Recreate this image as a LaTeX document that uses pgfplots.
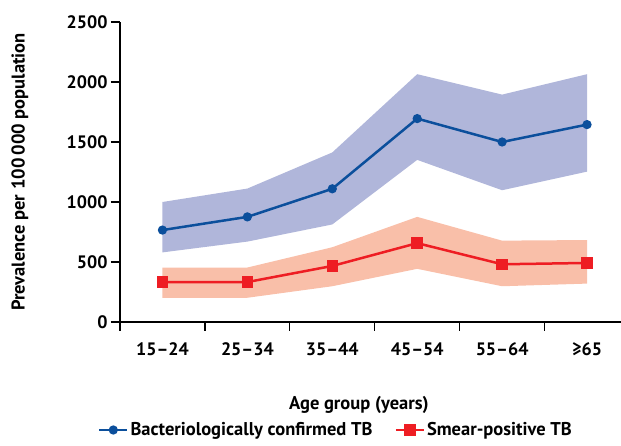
\documentclass[border=0pt]{standalone}
\usepackage{pgfplots}
\pgfplotsset{compat=1.18}
\usepackage{fontspec}
\setmainfont{PT Sans}
\definecolor{bline}{HTML}{0B4F9C}
\definecolor{bband}{HTML}{B0B6DA}
\definecolor{rline}{HTML}{EE1D23}
\definecolor{rband}{HTML}{F9BFA9}
\begin{document}
\begin{tikzpicture}
\begin{axis}[
  scale only axis, width=501pt, height=300pt,
  xmin=-0.5, xmax=5.4, ymin=0, ymax=2500,
  axis x line=bottom, axis y line=left,
  axis line style={-, line width=1.2pt},
  every tick/.style={black, line width=1.2pt},
  tick align=outside, major tick length=9pt,
  xtick={-0.5,0.5,1.5,2.5,3.5,4.5}, xticklabels={,,,,,},
  extra x ticks={0,1,2,3,4,5},
  extra x tick labels={15–24,25–34,35–44,45–54,55–64,≥65},
  extra x tick style={major tick length=0pt, tick label style={yshift=-17pt}},
  ytick={0,500,1000,1500,2000,2500},
  /pgf/number format/assume math mode=true,
  /pgf/number format/1000 sep={},
  tick label style={font=\fontsize{18}{18}\selectfont\bfseries},
  ylabel={Prevalence per 100\,000 population},
  ylabel style={at={(axis description cs:-0.2,0.5)}, anchor=center, font=\fontsize{18.5}{18.5}\selectfont\bfseries},
  xlabel={Age group (years)},
  xlabel style={at={(axis description cs:0.477,-0.275)}, anchor=center, font=\fontsize{18.5}{18.5}\selectfont\bfseries},
  legend columns=2,
  legend style={draw=none, at={(axis description cs:0.431,-0.36)}, anchor=center,
    inner sep=1pt, font=\fontsize{18.5}{18.5}\selectfont\bfseries,
    /tikz/every even column/.append style={column sep=20pt}},
  legend image code/.code={\draw[mark repeat=2,mark phase=2] plot coordinates {(0pt,0pt) (14pt,0pt) (28pt,0pt)};},
  clip=false,
]
\addplot[fill=bband, draw=none, forget plot] coordinates {
  (0,1000) (1,1112) (2,1413) (3,2065) (4,1895) (5,2065)
  (5,1253) (4,1098) (3,1351) (2,813) (1,670) (0,580)} --cycle;
\addplot[fill=rband, draw=none, forget plot] coordinates {
  (0,454) (1,454) (2,623) (3,876) (4,678) (5,683)
  (5,320) (4,298) (3,443) (2,298) (1,202) (0,202)} --cycle;
\addplot[bline, line width=2.5pt, mark=*, mark size=3.3pt] coordinates {
  (0,766) (1,876) (2,1110) (3,1695) (4,1500) (5,1645)};
\addlegendentry{Bacteriologically confirmed TB}
\addplot[rline, line width=2.5pt, mark=square*, mark size=4.5pt] coordinates {
  (0,333) (1,333) (2,467) (3,657) (4,481) (5,492)};
\addlegendentry{Smear-positive TB}
\end{axis}
\pgfresetboundingbox
\path ([xshift=-120pt,yshift=-124pt]current axis.south west) rectangle ([yshift=22pt]current axis.north east);
\end{tikzpicture}
\end{document}
